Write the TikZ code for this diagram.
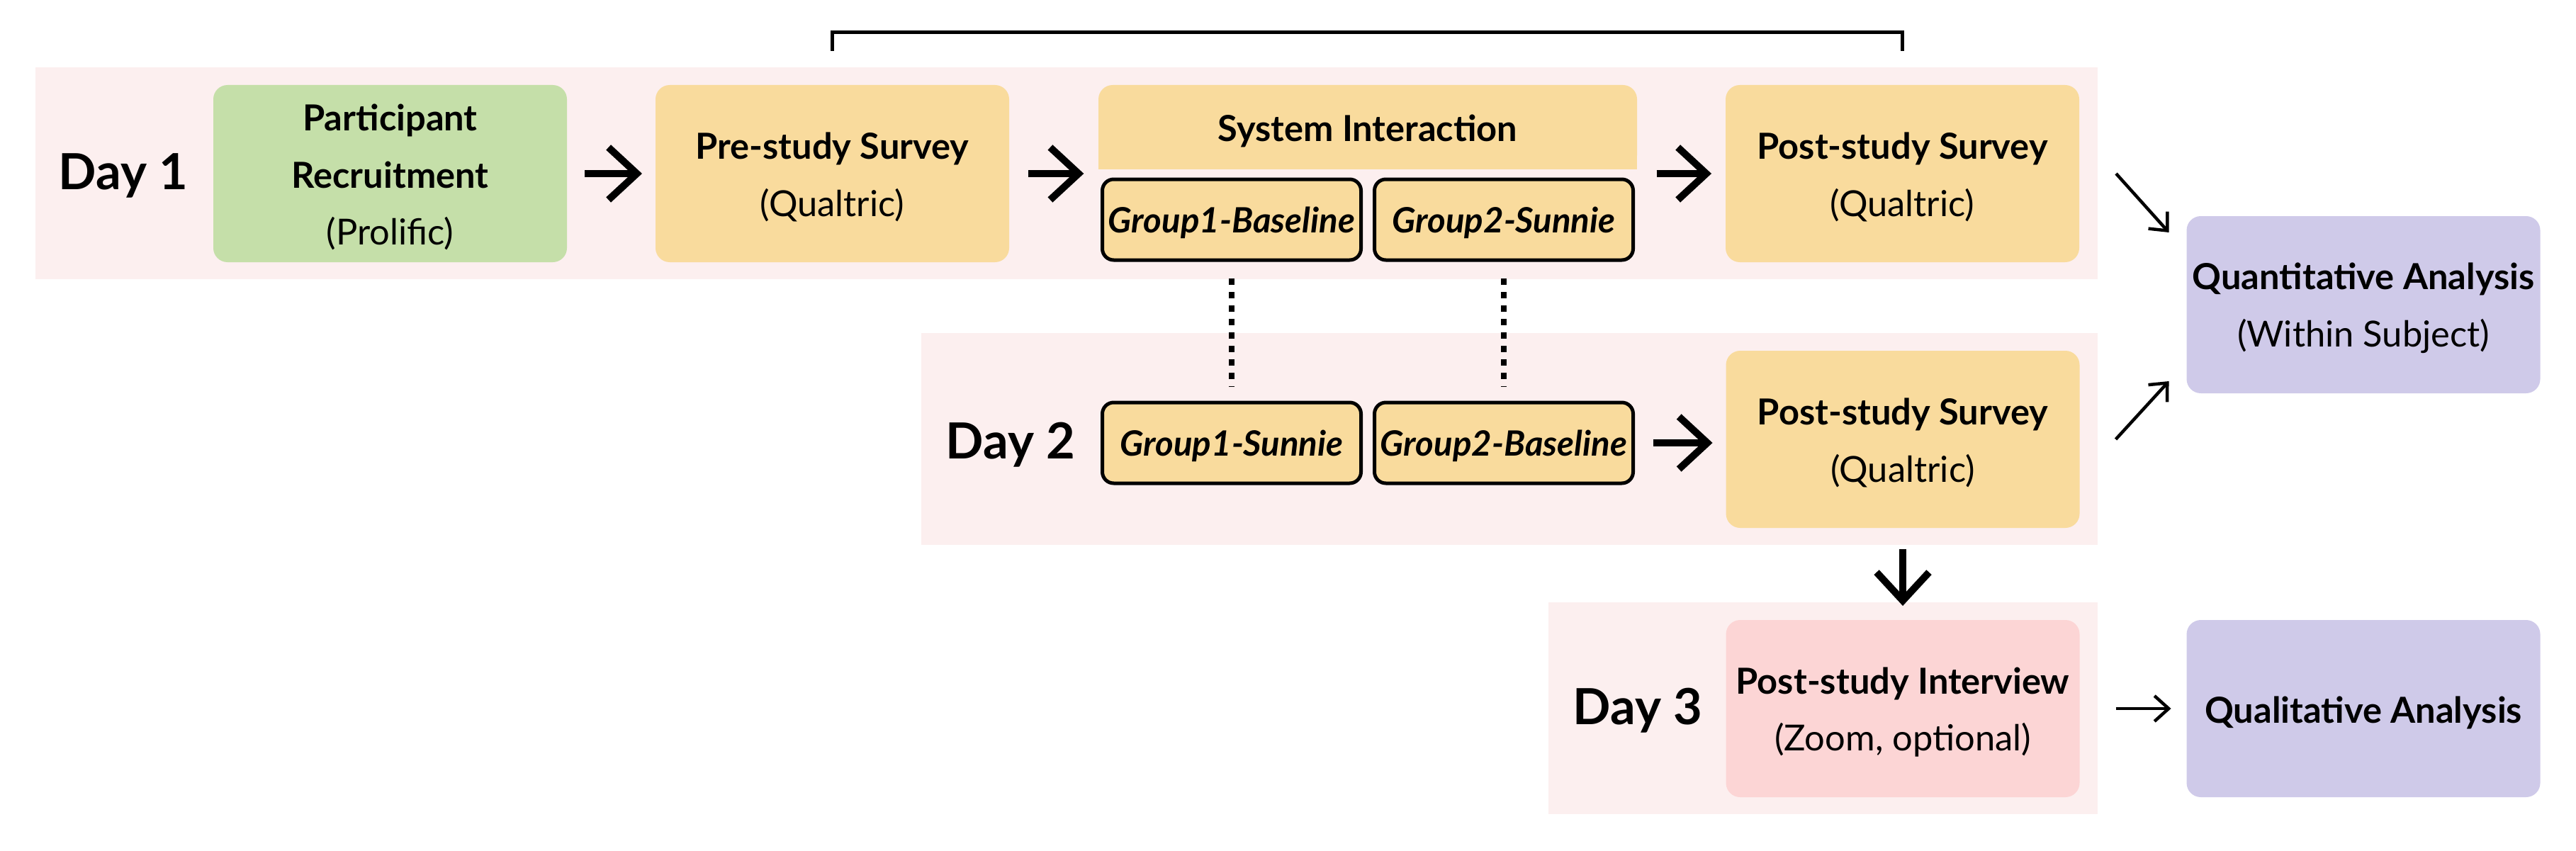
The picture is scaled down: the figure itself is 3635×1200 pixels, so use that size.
\documentclass[tikz,border=0pt]{standalone}
\usepackage{fontspec}
\setmainfont{Lato}
\usetikzlibrary{arrows.meta,fit}
\definecolor{bandpink}{HTML}{FCEFEF}
\definecolor{boxgreen}{HTML}{C5DFA9}
\definecolor{boxyellow}{HTML}{F9DB9D}
\definecolor{boxpink}{HTML}{FCD5D5}
\definecolor{boxpurple}{HTML}{CFCAE9}
\tikzset{
  band/.style={fill=bandpink, inner sep=0pt, outer sep=0pt},
  mainbox/.style={rounded corners=2mm, inner sep=0pt, outer sep=0pt,
    minimum width=49.9mm, minimum height=25mm},
  boxtext/.style={align=center, inner sep=0pt, font=\fontsize{14.4}{23}\selectfont},
  hdrbox/.style={rounded corners=2mm, fill=boxyellow, inner sep=0pt, outer sep=0pt,
    minimum width=76mm, minimum height=11.9mm},
  hdrtext/.style={inner sep=0pt, font=\fontsize{14.4}{23}\selectfont\bfseries},
  grpbox/.style={rounded corners=1.6mm, draw=black, line width=0.5mm, fill=boxyellow,
    inner sep=0pt, outer sep=0pt, minimum width=36.5mm, minimum height=11.4mm},
  grptext/.style={inner sep=0pt, font=\fontsize{14}{20}\selectfont\bfseries\itshape},
  daylabel/.style={font=\fontsize{20}{24}\selectfont\bfseries, inner sep=0pt},
  thickarrow/.style={line width=1mm, -{Straight Barb[length=4mm,width=7.4mm]}},
  thinarrow/.style={line width=0.45mm, -{Straight Barb[length=2mm,width=3.6mm]}},
  dotline/.style={line width=0.8mm, dash pattern=on 0.9mm off 1mm},
  bracket/.style={line width=0.5mm},
}
\begin{document}
\begin{tikzpicture}[x=0.1mm,y=-0.1mm]
\useasboundingbox (0,0) rectangle (3635,1200);
% bands
\coordinate (b1a) at (50,95);   \coordinate (b1b) at (2960,394);
\coordinate (b2a) at (1300,470); \coordinate (b2b) at (2960,769);
\coordinate (b3a) at (2185,850); \coordinate (b3b) at (2960,1149);
\node[band, fit=(b1a)(b1b)] (band1) {};
\node[band, fit=(b2a)(b2b)] (band2) {};
\node[band, fit=(b3a)(b3b)] (band3) {};
% day labels
\node[daylabel] (day1) at (174,248) {Day 1};
\node[daylabel] (day2) at (1426,628) {Day 2};
\node[daylabel] (day3) at (2311,1003) {Day 3};
% boxes
\node[mainbox, fill=boxgreen] (recruit) at (550.5,245) {};
\node[boxtext] (recruitT) at ([yshift=-0.5mm]recruit.center) {\textbf{Participant}\\\textbf{Recruitment}\\(Prolific)};
\node[mainbox, fill=boxyellow] (pre) at (1174.5,245) {};
\node[boxtext] (preT) at ([yshift=-0.5mm]pre.center) {\textbf{Pre-study Survey}\\(Qualtric)};
\node[hdrbox] (sihdr) at (1930,179.5) {};
\fill[boxyellow] ([yshift=3mm]sihdr.south west) rectangle (sihdr.south east);
\node[hdrtext] (sitext) at ([yshift=-0.5mm]sihdr.center) {System Interaction};
\node[grpbox] (g1b) at (1738,310) {};
\node[grptext] (g1bT) at ([yshift=-0.4mm]g1b.center) {Group1-Baseline};
\node[grpbox] (g2s) at (2122,310) {};
\node[grptext] (g2sT) at ([yshift=-0.4mm]g2s.center) {Group2-Sunnie};
\node[fit=(sihdr)(g1b)(g2s), inner sep=0pt] (sysbox) {};
\node[mainbox, fill=boxyellow] (post1) at (2684.5,245) {};
\node[boxtext] (post1T) at ([yshift=-0.5mm]post1.center) {\textbf{Post-study Survey}\\(Qualtric)};
\node[grpbox] (g1s) at (1738,625) {};
\node[grptext] (g1sT) at ([yshift=-0.4mm]g1s.center) {Group1-Sunnie};
\node[grpbox] (g2b) at (2122,625) {};
\node[grptext] (g2bT) at ([yshift=-0.4mm]g2b.center) {Group2-Baseline};
\node[mainbox, fill=boxyellow] (post2) at (2685,620) {};
\node[boxtext] (post2T) at ([yshift=-0.5mm]post2.center) {\textbf{Post-study Survey}\\(Qualtric)};
\node[mainbox, fill=boxpink] (interview) at (2685,1000) {};
\node[boxtext] (interviewT) at ([yshift=-0.5mm]interview.center) {\textbf{Post-study Interview}\\(Zoom, optional)};
\node[mainbox, fill=boxpurple] (quant) at (3335,430) {};
\node[boxtext] (quantT) at ([yshift=-0.5mm]quant.center) {\textbf{Quantitative Analysis}\\(Within Subject)};
\node[mainbox, fill=boxpurple] (qual) at (3335,1000) {};
\node[boxtext] (qualT) at ([yshift=-0.6mm]qual.center) {\textbf{Qualitative Analysis}};
% bracket
\draw[bracket] ([yshift=4.8mm]pre.north) -- ([yshift=7.4mm]pre.north) -- ([yshift=7.4mm]post1.north) -- ([yshift=4.8mm]post1.north);
% thick arrows
\draw[thickarrow, shorten <=2.5mm, shorten >=1.9mm] (recruit) -- (pre);
\draw[thickarrow, shorten <=2.7mm, shorten >=2mm] (pre.east) -- (pre.east -| sysbox.west);
\draw[thickarrow, shorten <=2.7mm, shorten >=2mm] (sysbox.east |- post1.west) -- (post1.west);
\draw[thickarrow, shorten <=2.8mm, shorten >=1.9mm] (g2b.east) -- (g2b.east -| post2.west);
\draw[thickarrow, shorten <=3mm, shorten >=2mm] (post2) -- (interview);
% dotted links
\draw[dotline, shorten <=2.6mm, shorten >=2.2mm] (g1b) -- (g1s);
\draw[dotline, shorten <=2.6mm, shorten >=2.2mm] (g2s) -- (g2b);
% thin arrows
\draw[thinarrow] ([xshift=5.2mm]post1.east) -- ([xshift=-2.5mm,yshift=-2.3mm]quant.north west);
\draw[thinarrow] ([xshift=5.1mm]post2.east) -- ([xshift=-2.5mm,yshift=1.7mm]quant.south west);
\draw[thinarrow, shorten <=5.1mm, shorten >=2.2mm] (interview) -- (qual);
\end{tikzpicture}
\end{document}
